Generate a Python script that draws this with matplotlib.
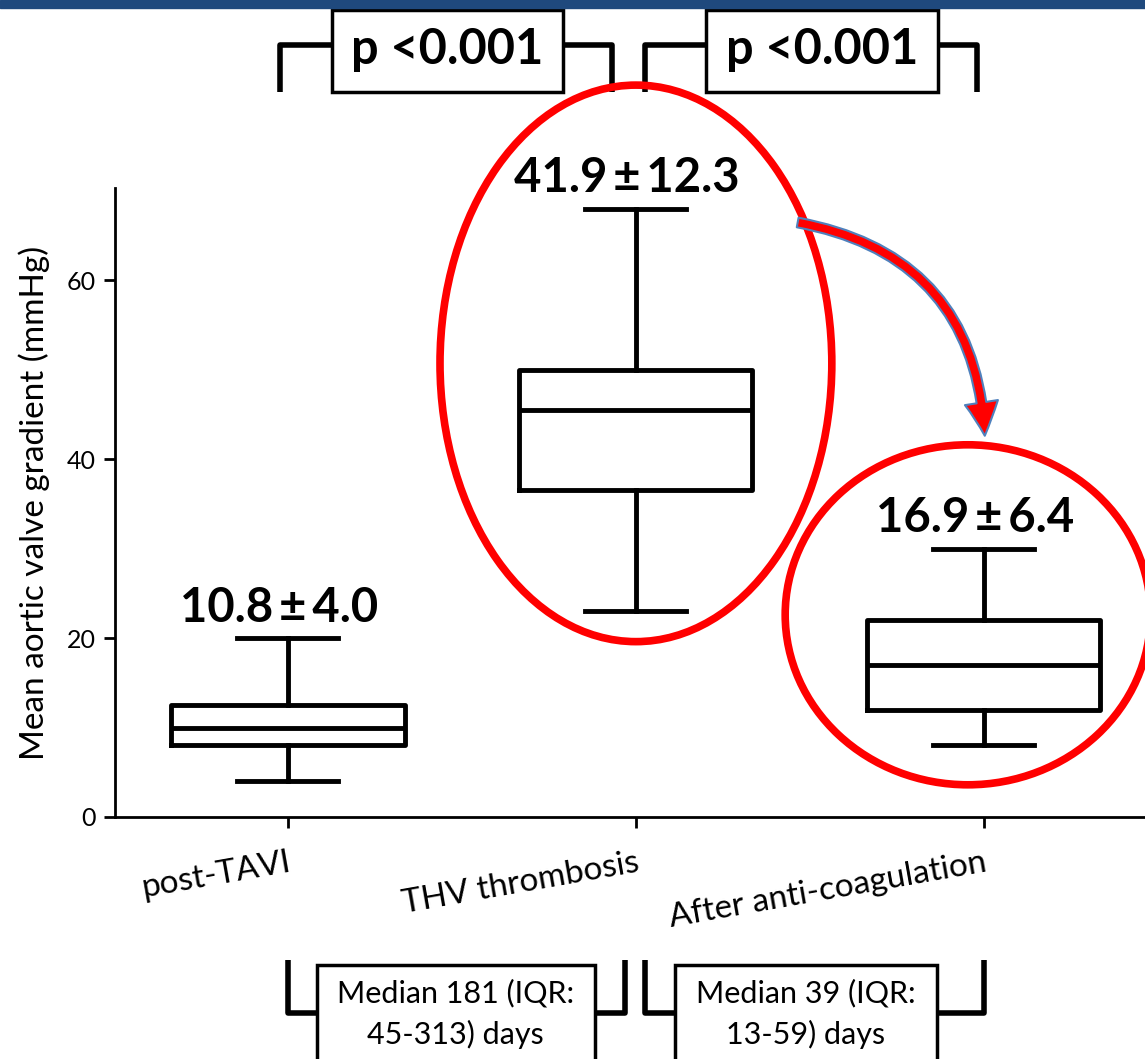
import matplotlib

matplotlib.use("Agg")
import matplotlib.pyplot as plt
from matplotlib.patches import Ellipse, FancyArrowPatch, Rectangle

plt.rcParams.update({"font.family": ["Lato", "DejaVu Sans"]})

# ---- data ----
groups = ["post-TAVI", "THV thrombosis", "After anti-coagulation"]
whisker_lo = [4.0, 23.0, 8.0]
q1 = [8.0, 36.5, 12.0]
median = [10.0, 45.5, 17.0]
q3 = [12.5, 50.0, 22.0]
whisker_hi = [20.0, 68.0, 30.0]
mean_sd = ["10.8\u2009\u00b1\u20094.0", "41.9\u2009\u00b1\u200912.3", "16.9\u2009\u00b1\u20096.4"]
p_labels = ["p <0.001", "p <0.001"]
interval_labels = ["Median 181 (IQR:\n45-313) days", "Median 39 (IQR:\n13-59) days"]
yticks = [0, 20, 40, 60]

W, H = 1145, 1059
fig = plt.figure(figsize=(W / 100, H / 100), dpi=100)
# dark blue slide band at the very top
fig.patches.append(Rectangle((0, 1 - 8 / H), 1, 8 / H, transform=fig.transFigure,
                             color="#1f497d", zorder=0))

ax = fig.add_axes([115 / W, 1 - 817 / H, 1030 / W, 629 / H])
stats = [dict(med=m, q1=a, q3=b, whislo=lo, whishi=hi, fliers=[], label=g)
         for g, lo, a, m, b, hi in zip(groups, whisker_lo, q1, median, q3, whisker_hi)]
lw = 3.5
ax.bxp(stats, positions=range(len(groups)), widths=0.67, showfliers=False,
       boxprops=dict(color="black", lw=lw), medianprops=dict(color="black", lw=lw),
       whiskerprops=dict(color="black", lw=lw), capprops=dict(color="black", lw=lw),
       capwidths=0.29)

ax.set_xlim(-0.497, 2.463)
ax.set_ylim(0, 70.3)
ax.set_yticks(yticks)
ax.spines[["top", "right"]].set_visible(False)
ax.spines[["left", "bottom"]].set_linewidth(2)
ax.tick_params(axis="both", width=2, length=8, labelsize=18, pad=6)
ax.tick_params(axis="x", pad=14)
ax.set_xticks(range(len(groups)))
ax.set_xticklabels(groups, rotation=10, ha="right", rotation_mode="anchor", fontsize=24)
ax.set_ylabel("Mean aortic valve gradient (mmHg)", fontsize=24, labelpad=12)

# mean +/- sd above each box
for i, txt in enumerate(mean_sd):
    ax.text(i - 0.025, whisker_hi[i] + 1.8, txt, ha="center", va="baseline",
            fontsize=34, fontweight="bold")

# red ellipses highlighting the thrombosis and follow-up values
ax.add_patch(Ellipse((1.0, 50.7), 1.126, 62.2, fill=False, ec="#ff0000", lw=5.5,
                     clip_on=False, zorder=5))
ax.add_patch(Ellipse((1.954, 22.6), 1.05, 38.0, fill=False, ec="#ff0000", lw=5.5,
                     clip_on=False, zorder=5))
ax.add_patch(FancyArrowPatch((1.457, 66.5), (2.003, 42.3),
                             connectionstyle="arc3,rad=-0.4",
                             arrowstyle="simple,head_length=24,head_width=24,tail_width=7",
                             mutation_scale=1, fc="#ff0000", ec="#4f81bd", lw=1.5,
                             clip_on=False, zorder=6))


def bracket(x0, x1, y_end, y_bar, bx0, bx1, by0, by1, text, ty, fs, weight, ls=1.2):
    kw = dict(color="black", lw=4, clip_on=False, solid_capstyle="butt")
    ax.plot([x0, x0, bx0], [y_end, y_bar, y_bar], **kw)
    ax.plot([bx1, x1, x1], [y_bar, y_bar, y_end], **kw)
    ax.add_patch(Rectangle((bx0, by0), bx1 - bx0, by1 - by0, fill=True, fc="white",
                           ec="black", lw=2.5, clip_on=False))
    ax.text((bx0 + bx1) / 2, ty, text, ha="center", va="center",
            fontsize=fs, fontweight=weight, linespacing=ls)


# p-value brackets at the top
bracket(-0.023, 0.93, 81.0, 86.3, 0.126, 0.79, 81.0, 90.2, p_labels[0], 85.8, 35, "bold")
bracket(1.026, 1.98, 81.0, 86.3, 1.20, 1.868, 81.0, 90.2, p_labels[1], 85.8, 35, "bold")

# follow-up interval brackets at the bottom
bracket(0.0, 0.97, -16.0, -21.9, 0.083, 0.882, -30.0, -16.5, interval_labels[0],
        -22.0, 22, "normal", 1.5)
bracket(1.026, 2.0, -16.0, -21.9, 1.112, 1.865, -30.0, -16.5, interval_labels[1],
        -22.0, 22, "normal", 1.5)

fig.savefig("out.png", dpi=100)
